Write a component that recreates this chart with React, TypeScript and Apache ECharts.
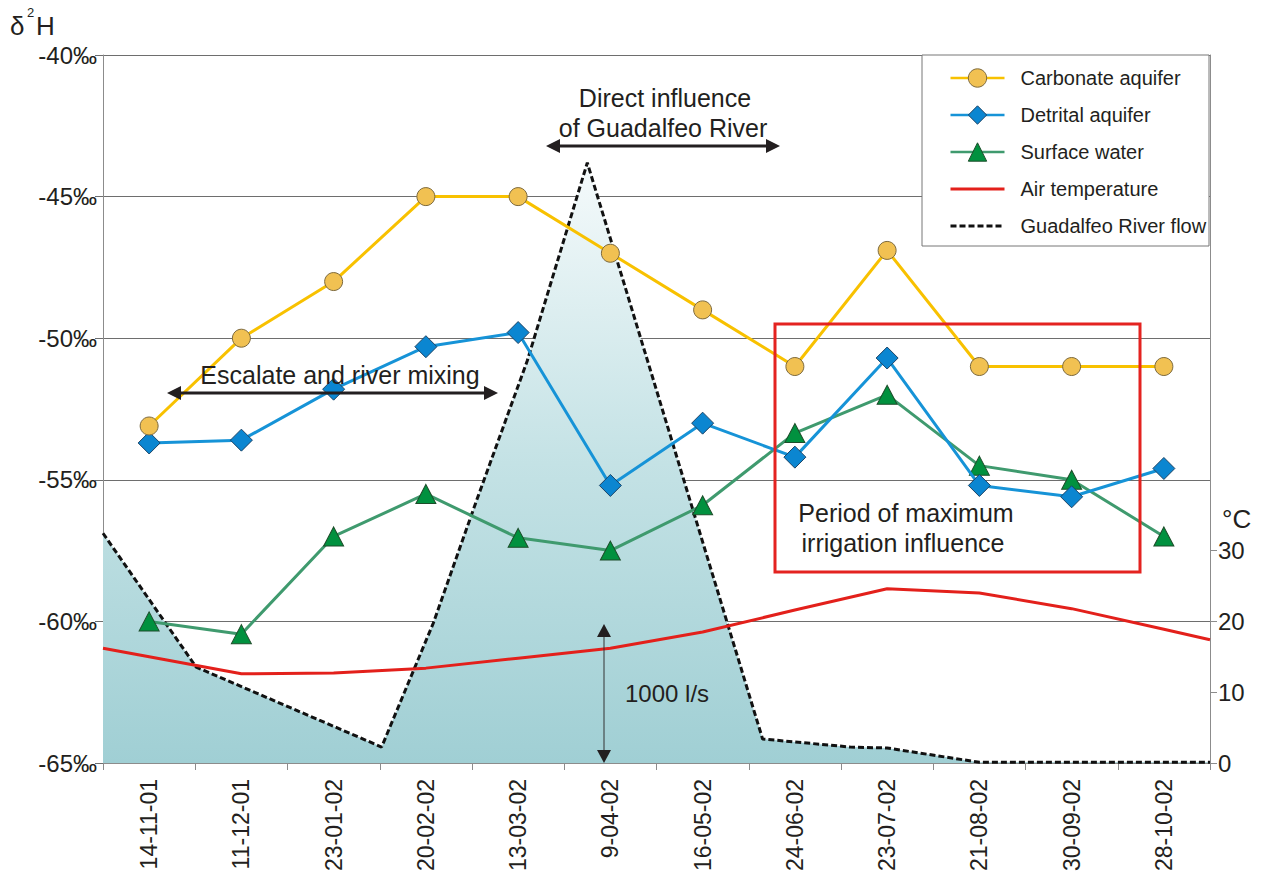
import React, { useEffect, useRef } from 'react';
import * as echarts from 'echarts';

// ---------- data ----------
const categories = ['14-11-01', '11-12-01', '23-01-02', '20-02-02', '13-03-02', '9-04-02', '16-05-02', '24-06-02', '23-07-02', '21-08-02', '30-09-02', '28-10-02'];
const carbonate = [-53.1, -50.0, -48.0, -45.0, -45.0, -47.0, -49.0, -51.0, -46.9, -51.0, -51.0, -51.0];
const detrital = [-53.7, -53.6, -51.8, -50.3, -49.8, -55.2, -53.0, -54.2, -50.7, -55.2, -55.6, -54.6];
const surface = [-60.0, -60.45, -57.0, -55.5, -57.05, -57.5, -55.9, -53.35, -52.0, -54.5, -55.0, -57.0];
// air temperature (°C) at positions in category units (-0.5 = left edge, 11.5 = right edge)
const airPos = [-0.5, 0, 1, 2, 3, 4, 5, 6, 7, 8, 9, 10, 11, 11.5];
const airTemp = [16.2, 15.0, 12.6, 12.7, 13.4, 14.8, 16.2, 18.5, 21.6, 24.6, 24.0, 21.8, 18.9, 17.4];
// Guadalfeo River flow (l/s)
const flowPos = [-0.5, 0.51, 2.52, 3.08, 3.55, 4.1, 4.75, 6.65, 7.6, 8.0, 9.0, 11.5];
const flow = [1655, 691, 115, 1007, 1892, 2899, 4324, 173, 115, 108, 5, 5];
const tempTicks = [0, 10, 20, 30];

const FONT = '"Liberation Sans", Arial, Helvetica, sans-serif';
const INK = '#231f20';
const GRID = '#6e6e6e';
const AXIS = '#8c8c8c';

function hArrow(x1: number, x2: number, y: number, lw: number, hl: number, hw: number) {
  return [
    { type: 'line', z: 100, shape: { x1: x1 + hl - 1, y1: y, x2: x2 - hl + 1, y2: y }, style: { stroke: INK, lineWidth: lw } },
    { type: 'polygon', z: 100, shape: { points: [[x1, y], [x1 + hl, y - hw], [x1 + hl, y + hw]] }, style: { fill: INK } },
    { type: 'polygon', z: 100, shape: { points: [[x2, y], [x2 - hl, y - hw], [x2 - hl, y + hw]] }, style: { fill: INK } },
  ];
}
function vArrow(x: number, y1: number, y2: number, lw: number, hl: number, hw: number) {
  return [
    { type: 'line', z: 100, shape: { x1: x, y1: y1 + hl - 1, x2: x, y2: y2 - hl + 1 }, style: { stroke: '#333', lineWidth: lw } },
    { type: 'polygon', z: 100, shape: { points: [[x, y1], [x - hw, y1 + hl], [x + hw, y1 + hl]] }, style: { fill: INK } },
    { type: 'polygon', z: 100, shape: { points: [[x, y2], [x - hw, y2 - hl], [x + hw, y2 - hl]] }, style: { fill: INK } },
  ];
}
function txt(text: string, x: number, y: number, size: number, align = 'center') {
  return {
    type: 'text', z: 100, x, y,
    style: { text, fontSize: size, fontFamily: FONT, fill: INK, textAlign: align, textVerticalAlign: 'middle' },
  };
}

export default function App() {
  const ref = useRef<HTMLDivElement>(null);
  useEffect(() => {
    if (!ref.current) return;
    const chart = echarts.init(ref.current, null, { renderer: 'svg' });
    const option: any = {
      animation: false,
      backgroundColor: '#ffffff',
      textStyle: { fontFamily: FONT },
      grid: { left: 103, right: 59, top: 55, bottom: 123, containLabel: false },
      legend: {
        orient: 'vertical', left: 944, top: 63, itemWidth: 54, itemHeight: 23, itemGap: 17,
        selectedMode: false, z: 10,
        textStyle: { fontSize: 20, color: INK, fontFamily: FONT, padding: [0, 0, 0, 11] },
        data: [
          { name: 'Carbonate aquifer', lineStyle: { width: 2.5 }, itemStyle: { color: '#f1c152', borderColor: '#7d6a3e', borderWidth: 1 } },
          { name: 'Detrital aquifer', lineStyle: { width: 2.5 }, itemStyle: { color: '#0b86d1', borderColor: '#1d4466', borderWidth: 1 } },
          { name: 'Surface water', lineStyle: { width: 2.5 }, itemStyle: { color: '#01913f', borderColor: '#1d4d2a', borderWidth: 1 } },
          { name: 'Air temperature', lineStyle: { width: 3 }, itemStyle: { opacity: 0 } },
          { name: 'Guadalfeo River flow', lineStyle: { width: 3 }, itemStyle: { opacity: 0 } },
        ],
      },
      xAxis: [
        {
          type: 'category', data: categories, boundaryGap: true,
          axisLine: { onZero: false, lineStyle: { color: AXIS, width: 1 } },
          axisTick: { show: true, interval: 0, length: 7, lineStyle: { color: AXIS } },
          axisLabel: { interval: 0, rotate: 90, fontSize: 23, color: INK, margin: 16, fontFamily: FONT },
          splitLine: { show: false },
        },
        { type: 'value', min: -0.5, max: 11.5, show: false, axisLine: { onZero: false } },
      ],
      yAxis: [
        {
          type: 'value', min: -65, max: -40, interval: 5, position: 'left',
          axisLine: { show: true, onZero: false, lineStyle: { color: AXIS } },
          axisTick: { show: true, length: 8, lineStyle: { color: GRID } },
          axisLabel: { formatter: (v: number) => `${v}‰`, fontSize: 24, color: INK, margin: 6, fontFamily: FONT },
          splitLine: { show: true, lineStyle: { color: GRID, width: 1 } },
        },
        {
          type: 'value', min: 0, max: 100, interval: 10, position: 'right',
          axisLine: { show: true, onZero: false, lineStyle: { color: AXIS } },
          axisTick: { show: true, customValues: tempTicks, length: 7, lineStyle: { color: AXIS } },
          axisLabel: { customValues: tempTicks, fontSize: 24, color: INK, margin: 8, fontFamily: FONT },
          splitLine: { show: false },
        },
        { type: 'value', min: 0, max: 5100, show: false, axisLine: { onZero: false } },
      ],
      series: [
        {
          name: 'Guadalfeo River flow', type: 'line', xAxisIndex: 1, yAxisIndex: 2, z: 1,
          data: flowPos.map((p, i) => [p, flow[i]]),
          symbol: 'none',
          lineStyle: { color: '#111', width: 3, type: [6, 3] },
          itemStyle: { color: '#111' },
          areaStyle: {
            opacity: 1,
            color: new echarts.graphic.LinearGradient(0, 0, 0, 1, [
              { offset: 0, color: '#f5fafb' },
              { offset: 0.5, color: '#c4e2e5' },
              { offset: 1, color: '#a0cfd4' },
            ]),
          },
        },
        {
          name: 'Air temperature', type: 'line', xAxisIndex: 1, yAxisIndex: 1, z: 2,
          data: airPos.map((p, i) => [p, airTemp[i]]),
          symbol: 'none',
          lineStyle: { color: '#e3201b', width: 3 },
          itemStyle: { color: '#e3201b' },
        },
        {
          name: 'Surface water', type: 'line', xAxisIndex: 0, yAxisIndex: 0, z: 3,
          data: surface, symbol: 'triangle', symbolSize: [20, 19],
          lineStyle: { color: '#3f9a6e', width: 3 },
          itemStyle: { color: '#01913f', borderColor: '#1d4d2a', borderWidth: 1 },
        },
        {
          name: 'Detrital aquifer', type: 'line', xAxisIndex: 0, yAxisIndex: 0, z: 4,
          data: detrital, symbol: 'diamond', symbolSize: 22,
          lineStyle: { color: '#1693d7', width: 3 },
          itemStyle: { color: '#0b86d1', borderColor: '#1d4466', borderWidth: 1 },
        },
        {
          name: 'Carbonate aquifer', type: 'line', xAxisIndex: 0, yAxisIndex: 0, z: 5,
          data: carbonate, symbol: 'circle', symbolSize: 18,
          lineStyle: { color: '#f8c100', width: 3 },
          itemStyle: { color: '#f1c152', borderColor: '#7d6a3e', borderWidth: 1 },
        },
      ],
      graphic: [
        // legend box
        { type: 'rect', z: 6, shape: { x: 922, y: 55, width: 287, height: 191 }, style: { fill: '#ffffff', stroke: '#777', lineWidth: 1 } },
        // δ²H title
        { type: 'text', z: 100, x: 10, y: 13, style: { text: 'δ', fontSize: 26, fontFamily: FONT, fill: INK } },
        { type: 'text', z: 100, x: 27, y: 6, style: { text: '2', fontSize: 13, fontFamily: FONT, fill: INK } },
        { type: 'text', z: 100, x: 36, y: 13, style: { text: 'H', fontSize: 26, fontFamily: FONT, fill: INK } },
        // °C
        txt('°C', 1222, 519, 26, 'left'),
        // Direct influence
        txt('Direct influence', 665, 98, 25),
        txt('of Guadalfeo River', 663, 128, 25),
        ...hArrow(546, 780, 146, 3, 14, 7),
        // Escalate and river mixing
        txt('Escalate and river mixing', 340, 375, 25),
        ...hArrow(167, 498, 393, 3, 14, 7),
        // irrigation box
        { type: 'rect', z: 100, shape: { x: 775, y: 324, width: 365, height: 248 }, style: { fill: 'none', stroke: '#e42320', lineWidth: 3 } },
        txt('Period of maximum', 906, 513, 25),
        txt('irrigation influence', 903, 543, 25),
        // 1000 l/s scale
        ...vArrow(604, 624, 763, 1, 13, 7),
        txt('1000 l/s', 625, 693, 24, 'left'),
      ],
    };
    chart.setOption(option);
    return () => chart.dispose();
  }, []);
  return <div ref={ref} style={{ position: 'absolute', left: 0, top: 0, width: 1269, height: 886 }} />;
}
